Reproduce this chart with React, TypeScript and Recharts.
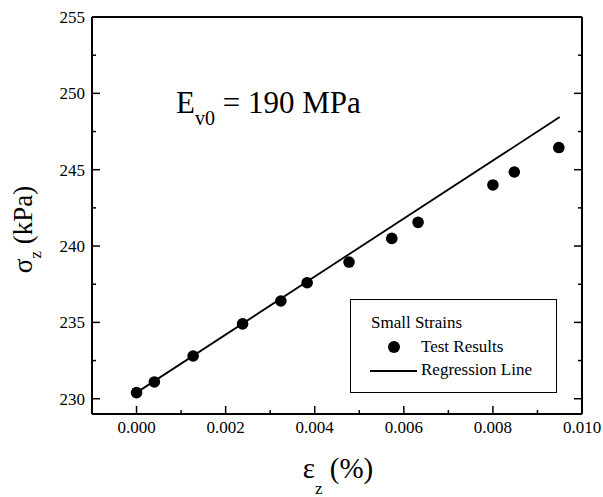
import React from 'react';
import { ComposedChart, Scatter, Line, XAxis, YAxis, Legend } from 'recharts';

// measured points (strain %, stress kPa)
const strain = [0.0, 0.0004, 0.00127, 0.00238, 0.00324, 0.00383, 0.00477, 0.00573, 0.00632, 0.008, 0.00848, 0.00948];
const stress = [230.4, 231.1, 232.8, 234.9, 236.4, 237.6, 238.95, 240.5, 241.55, 244.0, 244.85, 246.45];

// regression line end points
const fitStrain = [0.0, 0.0095];
const fitStress = [230.4, 248.45];

const xTicks = [-0.001, 0, 0.001, 0.002, 0.003, 0.004, 0.005, 0.006, 0.007, 0.008, 0.009, 0.01];
const yTicks = [230, 232.5, 235, 237.5, 240, 242.5, 245, 247.5, 250, 252.5, 255];

const tests = strain.map((x, i) => ({ x, y: stress[i] }));
const fit = fitStrain.map((x, i) => ({ x, y: fitStress[i] }));

const FONT = "'Liberation Serif', 'DejaVu Serif', Times, serif";

const isMajorX = (v: number) => v >= 0 && Math.round(v * 1000) % 2 === 0;
const isMajorY = (v: number) => Math.abs(v % 5) < 1e-6;

const BottomTick = (props: any) => {
  const { x, y, payload } = props;
  const major = isMajorX(payload.value);
  return (
    <g>
      <line x1={x} x2={x} y1={y} y2={y - (major ? 8 : 4)} stroke="#000" strokeWidth={1.5} />
      {major && (
        <text x={x} y={y + 19} textAnchor="middle" style={{ fontFamily: FONT }} fontSize={17} fill="#000">
          {payload.value.toFixed(3)}
        </text>
      )}
    </g>
  );
};

const TopTick = (props: any) => {
  const { x, y, payload } = props;
  const major = isMajorX(payload.value);
  return <line x1={x} x2={x} y1={y} y2={y + (major ? 8 : 4)} stroke="#000" strokeWidth={1.5} />;
};

const LeftTick = (props: any) => {
  const { x, y, payload } = props;
  const major = isMajorY(payload.value);
  return (
    <g>
      <line x1={x} x2={x + (major ? 8 : 4)} y1={y} y2={y} stroke="#000" strokeWidth={1.5} />
      {major && (
        <text x={x - 7} y={y} dy="0.35em" textAnchor="end" style={{ fontFamily: FONT }} fontSize={17} fill="#000">
          {payload.value}
        </text>
      )}
    </g>
  );
};

const RightTick = (props: any) => {
  const { x, y, payload } = props;
  const major = isMajorY(payload.value);
  return <line x1={x} x2={x - (major ? 8 : 4)} y1={y} y2={y} stroke="#000" strokeWidth={1.5} />;
};

const XLabel = (props: any) => {
  const { viewBox } = props;
  const cx = viewBox.x + viewBox.width / 2 + 1;
  return (
    <text x={cx} y={478} textAnchor="middle" style={{ fontFamily: FONT }} fontSize={29} fill="#000">
      ε<tspan fontSize={17} dy={16}>z</tspan>
      <tspan dy={-16}> (%)</tspan>
    </text>
  );
};

const YLabel = (props: any) => {
  const { viewBox } = props;
  const cy = viewBox.y + viewBox.height / 2 + 14;
  return (
    <text
      x={32}
      y={cy}
      transform={`rotate(-90, 32, ${cy})`}
      textAnchor="middle"
      style={{ fontFamily: FONT }}
      fontSize={27}
      fill="#000"
    >
      σ<tspan fontSize={17} dy={9}>z</tspan>
      <tspan dy={-9}> (kPa)</tspan>
    </text>
  );
};

const Dot = (props: any) => <circle cx={props.cx} cy={props.cy} r={5.8} fill="#000" />;

const LegendBox = () => (
  <div
    style={{
      width: 205,
      height: 92,
      border: '1.5px solid #000',
      background: '#fff',
      fontFamily: FONT,
      fontSize: 17,
      color: '#000',
      position: 'relative',
    }}
  >
    <div style={{ position: 'absolute', left: 20, top: 14, lineHeight: '17px' }}>Small Strains</div>
    <div style={{ position: 'absolute', left: 37, top: 41, width: 12, height: 12, borderRadius: 6, background: '#000' }} />
    <div style={{ position: 'absolute', left: 70, top: 38, lineHeight: '17px' }}>Test Results</div>
    <div style={{ position: 'absolute', left: 19, top: 70, width: 47, height: 2, background: '#000' }} />
    <div style={{ position: 'absolute', left: 70, top: 61, lineHeight: '17px' }}>Regression Line</div>
  </div>
);

export default function App() {
  return (
    <div style={{ position: 'absolute', left: 0, top: 0, width: 603, height: 497, background: '#fff' }}>
      <ComposedChart width={603} height={497} margin={{ top: 16, right: 20, bottom: 0, left: 0 }}>
        <XAxis
          dataKey="x"
          type="number"
          domain={[-0.001, 0.01]}
          ticks={xTicks}
          interval={0}
          allowDataOverflow
          height={83}
          tickSize={0}
          tickMargin={0}
          tick={<BottomTick />}
          axisLine={{ stroke: '#000', strokeWidth: 2 }}
          label={{ content: <XLabel /> }}
        />
        <XAxis
          xAxisId="top"
          orientation="top"
          type="number"
          domain={[-0.001, 0.01]}
          ticks={xTicks}
          interval={0}
          allowDataOverflow
          height={1}
          tickSize={0}
          tickMargin={0}
          tick={<TopTick />}
          axisLine={{ stroke: '#000', strokeWidth: 2 }}
        />
        <YAxis
          type="number"
          domain={[229, 255]}
          ticks={yTicks}
          interval={0}
          allowDataOverflow
          width={92}
          tickSize={0}
          tickMargin={0}
          tick={<LeftTick />}
          axisLine={{ stroke: '#000', strokeWidth: 2 }}
          label={{ content: <YLabel /> }}
        />
        <YAxis
          yAxisId="right"
          orientation="right"
          type="number"
          domain={[229, 255]}
          ticks={yTicks}
          interval={0}
          allowDataOverflow
          width={1}
          tickSize={0}
          tickMargin={0}
          tick={<RightTick />}
          axisLine={{ stroke: '#000', strokeWidth: 2 }}
        />
        <Line
          data={fit}
          dataKey="y"
          type="linear"
          stroke="#000"
          strokeWidth={1.8}
          dot={false}
          isAnimationActive={false}
          legendType="none"
        />
        <Scatter data={tests} dataKey="y" shape={<Dot />} isAnimationActive={false} legendType="none" />
        <Legend
          layout="vertical"
          align="center"
          verticalAlign="middle"
          content={<LegendBox />}
          wrapperStyle={{ position: 'absolute', left: 350, top: 299, width: 208, height: 95 }}
        />
      </ComposedChart>
      <div
        style={{
          position: 'absolute',
          left: 176,
          top: 87,
          fontFamily: FONT,
          fontSize: 31,
          lineHeight: '31px',
          color: '#000',
          whiteSpace: 'nowrap',
        }}
      >
        E<span style={{ fontSize: 20, verticalAlign: -12 }}>v0</span> = 190 MPa
      </div>
    </div>
  );
}
